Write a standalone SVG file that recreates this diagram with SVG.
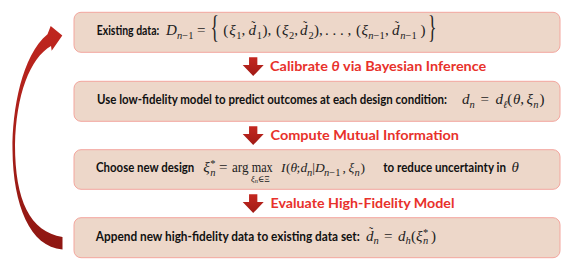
<svg xmlns="http://www.w3.org/2000/svg" width="586" height="271" viewBox="0 0 586 271">
<defs>
<linearGradient id="cg" x1="0" y1="0" x2="0" y2="1">
<stop offset="0" stop-color="#C0261F"/>
<stop offset="1" stop-color="#8E1712"/>
</linearGradient>
<linearGradient id="ag" x1="0" y1="0" x2="0" y2="1">
<stop offset="0" stop-color="#C42820"/>
<stop offset="1" stop-color="#A01A15"/>
</linearGradient>
<path id="down" d="M-4.15 0 H4.15 V7.7 H10.5 L0 18.7 L-10.5 7.7 H-4.15 Z" fill="url(#ag)"/>
</defs>
<style>
.box{fill:#EDD7C9;stroke:#F3A69E;stroke-width:1}
.t{font-family:Lato,"Open Sans","Liberation Sans",sans-serif;font-weight:bold;font-size:12.5px;fill:#111}
.lbl{font-family:Lato,"Open Sans","Liberation Sans",sans-serif;font-weight:bold;font-size:14px;fill:#E8312B}
.m{font-family:"Liberation Serif","DejaVu Serif",serif;font-style:italic;font-size:15px;fill:#222}
.m3{font-size:13.5px}
.r{font-style:normal}
.s{font-size:10.5px}
.ss{font-size:8.5px}
.sss{font-size:6.5px}
.br{font-size:32px}
.tl{font-size:12px;font-style:normal}
</style>
<rect width="586" height="271" fill="#fff"/>

<g id="node1">
<rect class="box" x="74" y="12.3" width="486" height="40" rx="7"/>
<text class="t" x="96.7" y="35" textLength="62.6" lengthAdjust="spacingAndGlyphs">Existing data:</text>
<text class="m"><tspan x="166" y="35">D</tspan><tspan class="s" x="177" y="38.5">n</tspan><tspan class="s r">−1</tspan><tspan class="r" x="197" y="35">=</tspan><tspan class="r" x="223.3" y="35">(</tspan><tspan x="229.3" y="35">ξ</tspan><tspan class="s r" x="236.3" y="38.5">1</tspan><tspan class="r" x="241.5" y="35">,</tspan><tspan x="248.4" y="35">d</tspan><tspan class="tl" x="251.3" y="30">˜</tspan><tspan class="s r" x="256.8" y="38.5">1</tspan><tspan class="r" x="262.5" y="35">),</tspan><tspan class="r" x="276" y="35">(</tspan><tspan x="282" y="35">ξ</tspan><tspan class="s r" x="289" y="38.5">2</tspan><tspan class="r" x="294.2" y="35">,</tspan><tspan x="300" y="35">d</tspan><tspan class="tl" x="302.9" y="30">˜</tspan><tspan class="s r" x="308.4" y="38.5">2</tspan><tspan class="r" x="314" y="35">),</tspan><tspan class="r" x="325" y="35">. . . ,</tspan><tspan class="r" x="356" y="35">(</tspan><tspan x="361.5" y="35">ξ</tspan><tspan class="s" x="368.3" y="38.5">n</tspan><tspan class="s r">−1</tspan><tspan class="r" x="385" y="35">,</tspan><tspan x="391.9" y="35">d</tspan><tspan class="tl" x="394.8" y="30">˜</tspan><tspan class="s" x="400.3" y="38.5">n</tspan><tspan class="s r">−1</tspan><tspan class="r" x="420.4" y="35">)</tspan></text>
<text class="m r br" transform="translate(210.5,37.5) scale(0.55,1)">{</text>
<text class="m r br" transform="translate(428,37.5) scale(0.55,1)">}</text>
</g>

<g id="node2">
<rect class="box" x="74" y="81.3" width="486" height="40" rx="7"/>
<text class="t" x="97" y="104" textLength="350" lengthAdjust="spacingAndGlyphs">Use low-fidelity model to predict outcomes at each design condition:</text>
<text class="m"><tspan x="462" y="104">d</tspan><tspan class="s" x="469.6" y="107.5">n</tspan><tspan class="r" x="480.5" y="104">=</tspan><tspan x="495.4" y="104">d</tspan><tspan class="s" x="503" y="107.5">ℓ</tspan><tspan class="r" x="507.3" y="104">(</tspan><tspan x="513" y="104">θ</tspan><tspan class="r" x="520.2" y="104">,</tspan><tspan x="526.5" y="104">ξ</tspan><tspan class="s" x="533.2" y="107.5">n</tspan><tspan class="r" x="539.5" y="104">)</tspan></text>
</g>

<g id="node3">
<rect class="box" x="74" y="149.7" width="486" height="39.6" rx="7"/>
<text class="t" x="96" y="172" textLength="98.3" lengthAdjust="spacingAndGlyphs">Choose new design</text>
<text class="m"><tspan x="203.3" y="172">ξ</tspan><tspan class="s r" x="210.3" y="167">*</tspan><tspan class="s" x="210.3" y="175.5">n</tspan><tspan class="r" x="219" y="172">=</tspan><tspan class="r" x="232" y="172" textLength="16.5" lengthAdjust="spacingAndGlyphs">arg</tspan><tspan class="r" x="251.7" y="172" textLength="21" lengthAdjust="spacingAndGlyphs">max</tspan><tspan class="ss" x="251" y="181.5">ξ</tspan><tspan class="sss" y="183">n</tspan><tspan class="ss r" y="181.5">∈Ξ</tspan><tspan class="m3" x="281" y="172">I</tspan><tspan class="m3 r" x="286" y="172">(</tspan><tspan class="m3" x="290.5" y="172">θ</tspan><tspan class="m3 r" x="296.5" y="172">;</tspan><tspan class="m3" x="300.5" y="172">d</tspan><tspan class="s" x="307" y="175.5">n</tspan><tspan class="m3 r" x="312.3" y="172">|</tspan><tspan class="m3" x="315" y="172">D</tspan><tspan class="s" x="324" y="175.5">n</tspan><tspan class="s r">−1</tspan><tspan class="m3 r" x="342.5" y="172">,</tspan><tspan class="m3" x="348.5" y="172">ξ</tspan><tspan class="s" x="354.5" y="175.5">n</tspan><tspan class="m3 r" x="360.5" y="172">)</tspan></text>
<text class="t" x="383.3" y="172" textLength="122.7" lengthAdjust="spacingAndGlyphs">to reduce uncertainty in</text>
<text class="m" x="511.5" y="172">θ</text>
</g>

<g id="node4">
<rect class="box" x="74" y="217.7" width="486" height="40" rx="7"/>
<text class="t" x="95.8" y="240.5" textLength="264" lengthAdjust="spacingAndGlyphs">Append new high-fidelity data to existing data set:</text>
<text class="m"><tspan x="366" y="240.5">d</tspan><tspan class="tl" x="368.9" y="235.5">˜</tspan><tspan class="s" x="373.6" y="244">n</tspan><tspan class="r" x="384" y="240.5">=</tspan><tspan x="398" y="240.5">d</tspan><tspan class="s" x="405.6" y="244">h</tspan><tspan class="r" x="411" y="240.5">(</tspan><tspan x="416" y="240.5">ξ</tspan><tspan class="s r" x="423" y="235.5">*</tspan><tspan class="s" x="423" y="244">n</tspan><tspan class="r" x="431" y="240.5">)</tspan></text>
</g>

<g id="connectors">
<use href="#down" x="253.2" y="57.3"/>
<text class="lbl" x="270" y="70.5" textLength="216.3" lengthAdjust="spacingAndGlyphs">Calibrate <tspan font-style="italic">θ</tspan> via Bayesian Inference</text>
<use href="#down" x="253.2" y="126.3"/>
<text class="lbl" x="270.5" y="139.5" textLength="188.5" lengthAdjust="spacingAndGlyphs">Compute Mutual Information</text>
<use href="#down" x="253.2" y="194.3"/>
<text class="lbl" x="270.5" y="208" textLength="184" lengthAdjust="spacingAndGlyphs">Evaluate High-Fidelity Model</text>
<path d="M62.5 237 L62.5 249.5 C30 247 13 205 12.5 150 C12 110 22 55 47.5 34.3 L50.7 26 L62.3 35.5 L51.7 50.7 L51 46 C30 58 16 95 15 145 C15 200 30 232 62.5 237 Z" fill="url(#cg)"/>
</g>
</svg>
